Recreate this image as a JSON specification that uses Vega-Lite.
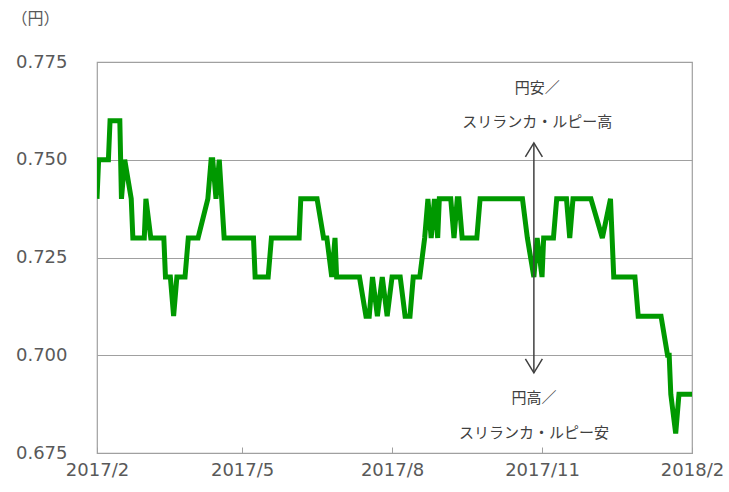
{
  "$schema": "https://vega.github.io/schema/vega-lite/v6.json",
  "width": 595,
  "height": 391,
  "autosize": "none",
  "padding": {"left": 97, "top": 62, "right": 37, "bottom": 39},
  "background": "white",
  "config": {
    "view": {"stroke": "#a0a0a0", "strokeWidth": 1.2},
    "axis": {"labelFont": "DejaVu Sans", "labelColor": "#595959", "labelFontSize": 18, "gridColor": "#a0a0a0", "gridWidth": 1.2, "domainColor": "#a0a0a0", "tickColor": "#a0a0a0"}
  },
  "datasets": {
    "rate": [
      {"date": "2017-02-01T00:00", "value": 0.74},
      {"date": "2017-02-02T00:00", "value": 0.75},
      {"date": "2017-02-08T00:00", "value": 0.75},
      {"date": "2017-02-09T00:00", "value": 0.76},
      {"date": "2017-02-15T00:00", "value": 0.76},
      {"date": "2017-02-16T00:00", "value": 0.74},
      {"date": "2017-02-18T00:00", "value": 0.75},
      {"date": "2017-02-22T00:00", "value": 0.74},
      {"date": "2017-02-23T00:00", "value": 0.73},
      {"date": "2017-03-02T00:00", "value": 0.73},
      {"date": "2017-03-03T00:00", "value": 0.74},
      {"date": "2017-03-06T00:00", "value": 0.73},
      {"date": "2017-03-14T00:00", "value": 0.73},
      {"date": "2017-03-15T00:00", "value": 0.72},
      {"date": "2017-03-18T00:00", "value": 0.72},
      {"date": "2017-03-20T00:00", "value": 0.71},
      {"date": "2017-03-22T00:00", "value": 0.72},
      {"date": "2017-03-27T00:00", "value": 0.72},
      {"date": "2017-03-29T00:00", "value": 0.73},
      {"date": "2017-04-04T00:00", "value": 0.73},
      {"date": "2017-04-10T00:00", "value": 0.74},
      {"date": "2017-04-12T00:00", "value": 0.75},
      {"date": "2017-04-13T00:00", "value": 0.75},
      {"date": "2017-04-15T00:00", "value": 0.74},
      {"date": "2017-04-17T00:00", "value": 0.75},
      {"date": "2017-04-20T00:00", "value": 0.73},
      {"date": "2017-05-08T00:00", "value": 0.73},
      {"date": "2017-05-09T00:00", "value": 0.72},
      {"date": "2017-05-17T00:00", "value": 0.72},
      {"date": "2017-05-19T00:00", "value": 0.73},
      {"date": "2017-06-05T00:00", "value": 0.73},
      {"date": "2017-06-06T00:00", "value": 0.74},
      {"date": "2017-06-16T00:00", "value": 0.74},
      {"date": "2017-06-20T00:00", "value": 0.73},
      {"date": "2017-06-22T00:00", "value": 0.73},
      {"date": "2017-06-25T00:00", "value": 0.72},
      {"date": "2017-06-27T00:00", "value": 0.73},
      {"date": "2017-06-28T00:00", "value": 0.72},
      {"date": "2017-07-12T00:00", "value": 0.72},
      {"date": "2017-07-16T00:00", "value": 0.71},
      {"date": "2017-07-18T00:00", "value": 0.71},
      {"date": "2017-07-20T00:00", "value": 0.72},
      {"date": "2017-07-23T00:00", "value": 0.71},
      {"date": "2017-07-26T00:00", "value": 0.72},
      {"date": "2017-07-29T00:00", "value": 0.71},
      {"date": "2017-08-01T00:00", "value": 0.72},
      {"date": "2017-08-06T00:00", "value": 0.72},
      {"date": "2017-08-09T00:00", "value": 0.71},
      {"date": "2017-08-12T00:00", "value": 0.71},
      {"date": "2017-08-14T00:00", "value": 0.72},
      {"date": "2017-08-18T00:00", "value": 0.72},
      {"date": "2017-08-21T00:00", "value": 0.73},
      {"date": "2017-08-23T00:00", "value": 0.74},
      {"date": "2017-08-25T00:00", "value": 0.73},
      {"date": "2017-08-27T00:00", "value": 0.74},
      {"date": "2017-08-29T00:00", "value": 0.73},
      {"date": "2017-08-30T00:00", "value": 0.74},
      {"date": "2017-09-06T00:00", "value": 0.74},
      {"date": "2017-09-08T00:00", "value": 0.73},
      {"date": "2017-09-10T00:00", "value": 0.74},
      {"date": "2017-09-11T00:00", "value": 0.74},
      {"date": "2017-09-13T00:00", "value": 0.73},
      {"date": "2017-09-22T00:00", "value": 0.73},
      {"date": "2017-09-24T00:00", "value": 0.74},
      {"date": "2017-10-20T00:00", "value": 0.74},
      {"date": "2017-10-23T00:00", "value": 0.73},
      {"date": "2017-10-27T00:00", "value": 0.72},
      {"date": "2017-10-29T00:00", "value": 0.73},
      {"date": "2017-11-01T00:00", "value": 0.72},
      {"date": "2017-11-02T00:00", "value": 0.73},
      {"date": "2017-11-08T00:00", "value": 0.73},
      {"date": "2017-11-10T00:00", "value": 0.74},
      {"date": "2017-11-16T00:00", "value": 0.74},
      {"date": "2017-11-18T00:00", "value": 0.73},
      {"date": "2017-11-20T00:00", "value": 0.74},
      {"date": "2017-12-01T00:00", "value": 0.74},
      {"date": "2017-12-08T00:00", "value": 0.73},
      {"date": "2017-12-13T00:00", "value": 0.74},
      {"date": "2017-12-15T00:00", "value": 0.72},
      {"date": "2017-12-28T00:00", "value": 0.72},
      {"date": "2017-12-30T00:00", "value": 0.71},
      {"date": "2018-01-13T00:00", "value": 0.71},
      {"date": "2018-01-17T00:00", "value": 0.70},
      {"date": "2018-01-18T00:00", "value": 0.70},
      {"date": "2018-01-19T00:00", "value": 0.69},
      {"date": "2018-01-22T00:00", "value": 0.68},
      {"date": "2018-01-24T00:00", "value": 0.69},
      {"date": "2018-02-01T00:00", "value": 0.69}
    ],
    "arrow": [
      {"date": "2017-10-27T00:00", "top": 0.7543, "bottom": 0.6955}
    ],
    "labels": [
      {"date": "2017-10-29T00:00", "value": 0.7683, "text": "円安／"},
      {"date": "2017-10-29T00:00", "value": 0.7597, "text": "スリランカ・ルピー高"},
      {"date": "2017-10-27T00:00", "value": 0.6891, "text": "円高／"},
      {"date": "2017-10-27T00:00", "value": 0.6801, "text": "スリランカ・ルピー安"}
    ]
  },
  "encoding": {
    "x": {
      "field": "date",
      "type": "temporal",
      "scale": {"domain": [{"year": 2017, "month": 2, "date": 1}, {"year": 2018, "month": 2, "date": 1}]},
      "axis": {
        "title": null,
        "format": "%Y/%-m",
        "values": [
          {"year": 2017, "month": 2, "date": 1},
          {"year": 2017, "month": 5, "date": 1},
          {"year": 2017, "month": 8, "date": 1},
          {"year": 2017, "month": 11, "date": 1},
          {"year": 2018, "month": 2, "date": 1}
        ],
        "grid": false,
        "tickSize": -6,
        "labelPadding": 14,
        "labelFlush": false
      }
    }
  },
  "layer": [
    {
      "data": {"name": "rate"},
      "mark": {"type": "line", "color": "#009900", "strokeWidth": 5, "strokeMiterLimit": 3, "clip": true},
      "encoding": {
        "y": {
          "field": "value",
          "type": "quantitative",
          "scale": {"domain": [0.675, 0.775], "zero": false, "nice": false},
          "axis": {
            "values": [0.675, 0.7, 0.725, 0.75, 0.775],
            "format": ".3f",
            "ticks": false,
            "domain": false,
            "labelPadding": 30,
            "title": "（円）",
            "titleAngle": 0,
            "titleFont": "Noto Sans CJK JP",
            "titleFontSize": 16,
            "titleFontWeight": "normal",
            "titleColor": "#595959",
            "titleAlign": "center",
            "titleBaseline": "middle",
            "titleX": -62,
            "titleY": -44
          }
        }
      }
    },
    {
      "data": {"name": "arrow"},
      "mark": {"type": "rule", "stroke": "#404040", "strokeWidth": 1.5},
      "encoding": {
        "y": {"field": "top", "type": "quantitative"},
        "y2": {"field": "bottom"}
      }
    },
    {
      "data": {"name": "arrow"},
      "mark": {"type": "point", "shape": "M-1,1.65L0,0L1,1.65", "size": 289, "filled": false, "stroke": "#404040", "strokeWidth": 1.5, "opacity": 1},
      "encoding": {
        "y": {"field": "top", "type": "quantitative"}
      }
    },
    {
      "data": {"name": "arrow"},
      "mark": {"type": "point", "shape": "M-1,-1.65L0,0L1,-1.65", "size": 289, "filled": false, "stroke": "#404040", "strokeWidth": 1.5, "opacity": 1},
      "encoding": {
        "y": {"field": "bottom", "type": "quantitative"}
      }
    },
    {
      "data": {"name": "labels"},
      "mark": {"type": "text", "font": "Noto Sans CJK JP", "fontSize": 15, "color": "#404040", "align": "center", "baseline": "middle"},
      "encoding": {
        "y": {"field": "value", "type": "quantitative"},
        "text": {"field": "text"}
      }
    }
  ]
}
